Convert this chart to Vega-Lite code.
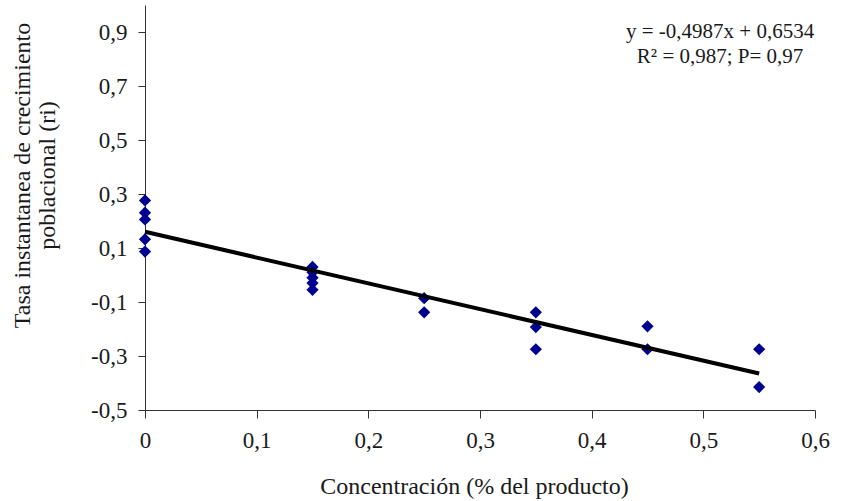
{
  "$schema": "https://vega.github.io/schema/vega-lite/v6.json",
  "width": 670,
  "height": 405,
  "autosize": "none",
  "padding": {"left": 145, "top": 5, "right": 34, "bottom": 91},
  "background": "white",
  "config": {
    "view": {"stroke": null},
    "font": "Liberation Serif",
    "axis": {"labelFont": "Liberation Serif", "titleFont": "Liberation Serif", "labelColor": "#1a1a1a", "titleColor": "#1a1a1a", "domainColor": "#333", "tickColor": "#333", "grid": false, "titleFontWeight": "normal"}
  },
  "datasets": {
    "pts": [
      {"c": 0, "r": 0.276}, {"c": 0, "r": 0.231}, {"c": 0, "r": 0.206}, {"c": 0, "r": 0.132}, {"c": 0, "r": 0.087},
      {"c": 0.15, "r": 0.03}, {"c": 0.15, "r": 0.01}, {"c": 0.15, "r": -0.01}, {"c": 0.15, "r": -0.03}, {"c": 0.15, "r": -0.055},
      {"c": 0.25, "r": -0.086}, {"c": 0.25, "r": -0.138},
      {"c": 0.35, "r": -0.138}, {"c": 0.35, "r": -0.193}, {"c": 0.35, "r": -0.275},
      {"c": 0.45, "r": -0.19}, {"c": 0.45, "r": -0.275},
      {"c": 0.55, "r": -0.275}, {"c": 0.55, "r": -0.415}
    ],
    "fit": [{"c": 0, "r": 0.16}, {"c": 0.55, "r": -0.365}],
    "eq": [
      {"c": 0.515, "r": 0.9, "t": "y = -0,4987x + 0,6534"},
      {"c": 0.515, "r": 0.808, "t": "R² = 0,987; P= 0,97"}
    ]
  },
  "layer": [
    {
      "data": {"name": "pts"},
      "mark": {"type": "point", "shape": "diamond", "filled": true, "color": "#000090", "size": 150, "opacity": 1},
      "encoding": {
        "x": {"field": "c", "type": "quantitative", "scale": {"domain": [0, 0.6], "nice": false, "zero": false},
          "axis": {"values": [0, 0.1, 0.2, 0.3, 0.4, 0.5, 0.6], "labelExpr": "datum.value == 0 ? '0' : replace(format(datum.value, '.1f'), '.', ',')", "labelFlush": false, "labelOverlap": false, "labelFontSize": 23, "labelPadding": 11, "tickSize": 8, "title": "Concentración (% del producto)", "titleFontSize": 24, "titlePadding": 22, "titleX": 329}},
        "y": {"field": "r", "type": "quantitative", "scale": {"domain": [-0.5, 1.0], "nice": false, "zero": false},
          "axis": {"values": [-0.5, -0.3, -0.1, 0.1, 0.3, 0.5, 0.7, 0.9], "labelExpr": "replace(replace(format(datum.value, '.1f'), '.', ','), '−', '-')", "labelFlush": false, "labelOverlap": false, "labelFontSize": 23, "labelPadding": 11, "tickSize": 7,
            "title": ["Tasa instantanea de crecimiento", "poblacional (ri)"], "titleFontSize": 24, "titleX": -123, "titleY": 170, "titleAngle": -90, "titleAlign": "center", "titleBaseline": "middle", "titleLineHeight": 25}}
      }
    },
    {
      "data": {"name": "fit"},
      "mark": {"type": "line", "color": "black", "strokeWidth": 4},
      "encoding": {
        "x": {"field": "c", "type": "quantitative"},
        "y": {"field": "r", "type": "quantitative"}
      }
    },
    {
      "data": {"name": "eq"},
      "mark": {"type": "text", "font": "Liberation Serif", "fontSize": 21, "color": "#1a1a1a", "align": "center", "baseline": "middle"},
      "encoding": {
        "x": {"field": "c", "type": "quantitative"},
        "y": {"field": "r", "type": "quantitative"},
        "text": {"field": "t"}
      }
    }
  ]
}
